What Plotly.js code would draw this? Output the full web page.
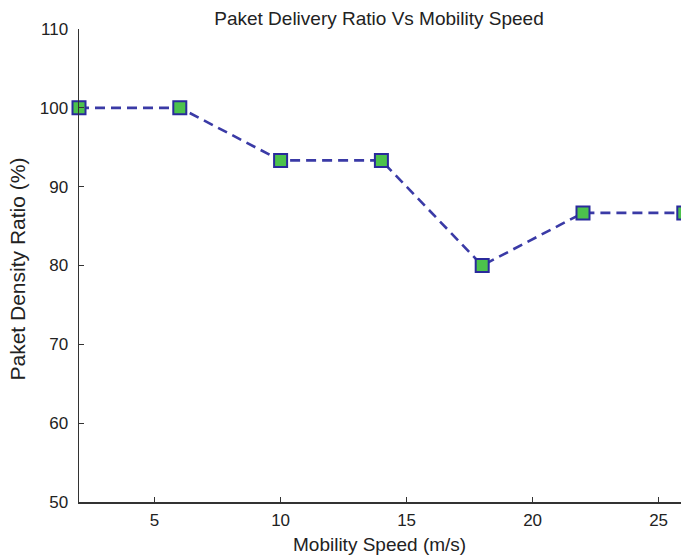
<!DOCTYPE html>
<html>
<head>
<meta charset="utf-8">
<script src="https://cdn.plot.ly/plotly-3.0.1.min.js"></script>
<style>html,body{margin:0;padding:0;background:#fff;overflow:hidden;width:681px;height:559px;}#chart{width:700px;height:559px;}</style>
</head>
<body>
<div id="chart"></div>
<script>
var speed = [2, 6, 10, 14, 18, 22, 26];
var pdr = [100, 100, 93.33, 93.33, 80, 86.67, 86.67];
var xTicks = [5, 10, 15, 20, 25];
var yTicks = [50, 60, 70, 80, 90, 100, 110];
var titleText = 'Paket Delivery Ratio Vs Mobility Speed';
var xTitle = 'Mobility Speed (m/s)';
var yTitle = 'Paket Density Ratio (%)';

var trace = {
  x: speed, y: pdr, type: 'scatter', mode: 'lines+markers',
  cliponaxis: false,
  line: {color: '#3a3aa6', width: 2.6, dash: '10px,6px'},
  marker: {symbol: 'square', size: 13, color: '#4cc24c', line: {color: '#2a2a9c', width: 2}}
};
var fam = 'Liberation Sans, Arial, sans-serif';
var tickFont = {family: fam, size: 17, color: '#222'};
var layout = {
  width: 700, height: 559,
  margin: {l: 79, r: 0, t: 29, b: 57},
  paper_bgcolor: '#fff', plot_bgcolor: '#fff',
  showlegend: false,
  font: tickFont,
  title: {text: titleText, xref: 'container', x: 379/700, xanchor: 'center', yref: 'container', y: 1 - 18/559, yanchor: 'middle', font: {family: fam, size: 19, color: '#222'}},
  xaxis: {
    range: [2, 2 + 621/25.2], tickvals: xTicks, ticktext: xTicks.map(String),
    ticks: 'inside', ticklen: 5, tickcolor: '#333', showgrid: false, zeroline: false,
    showline: true, linecolor: '#333', linewidth: 1.5,
    tickfont: tickFont, ticklabelstandoff: 2
  },
  yaxis: {
    range: [50, 110], tickvals: yTicks, ticktext: yTicks.map(String),
    ticks: 'inside', ticklen: 5, tickcolor: '#333', showgrid: false, zeroline: false,
    showline: true, linecolor: '#333', linewidth: 1.5,
    tickfont: tickFont, ticklabelstandoff: 6
  },
  annotations: [
    {text: xTitle, xref: 'paper', yref: 'paper', x: (379 - 79) / 621, y: 0, yshift: -42, xanchor: 'center', yanchor: 'middle', showarrow: false, font: {family: fam, size: 19, color: '#222'}},
    {text: yTitle, xref: 'paper', yref: 'paper', x: 0, xshift: -61, y: (501 - 269) / 472, xanchor: 'center', yanchor: 'middle', textangle: -90, showarrow: false, font: {family: fam, size: 21, color: '#222'}}
  ]
};
Plotly.newPlot('chart', [trace], layout, {displayModeBar: false, staticPlot: true});
</script>
</body>
</html>
